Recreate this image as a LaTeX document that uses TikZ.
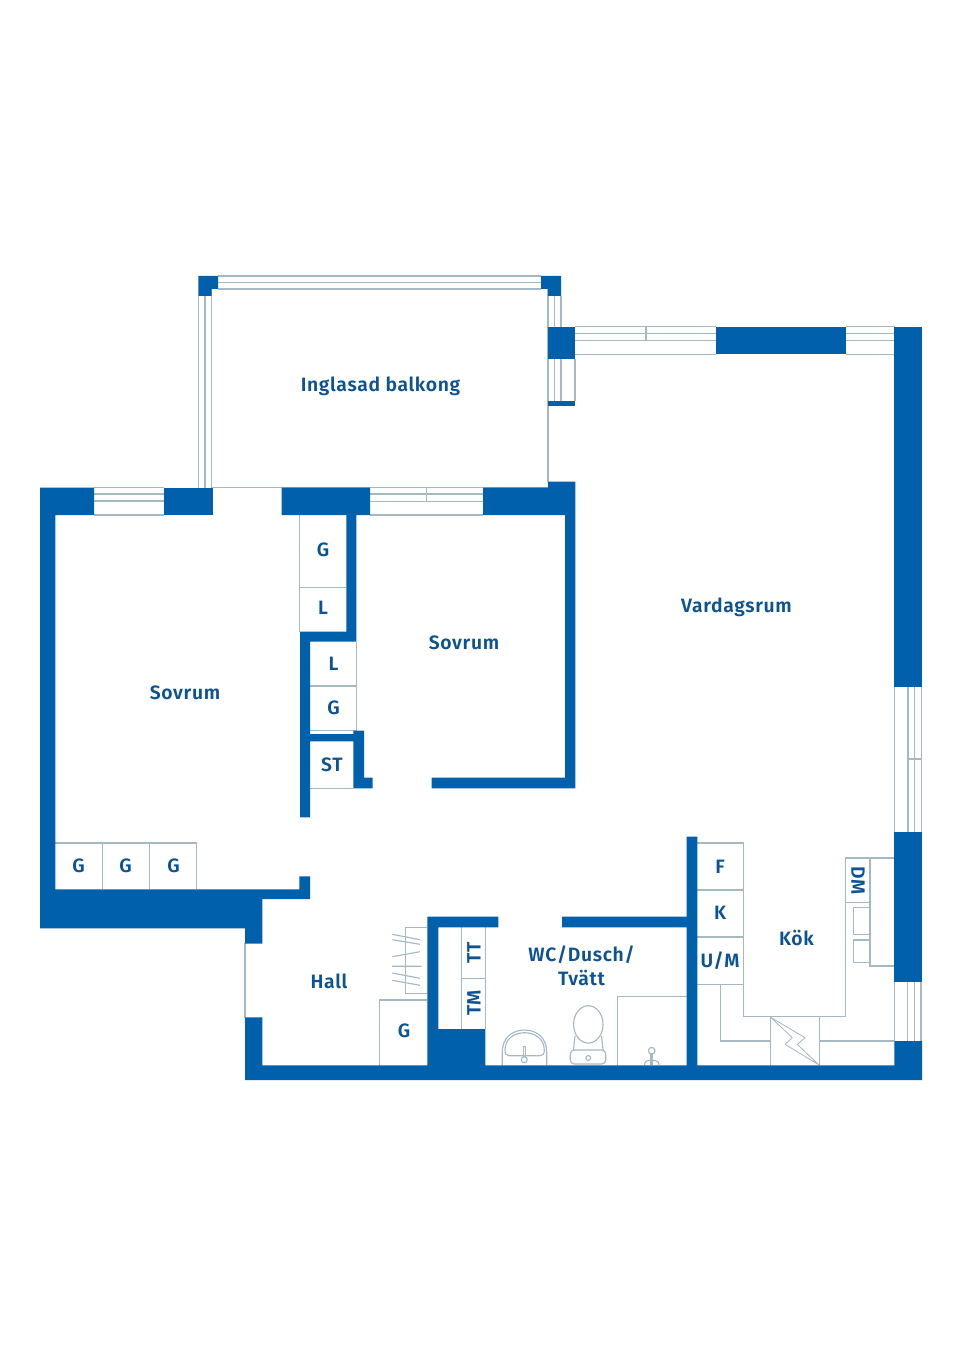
\documentclass[tikz,border=0pt]{standalone}
\usepackage{fontspec}
\setmainfont{Fira Sans}[BoldFont={Fira Sans SemiBold},BoldFeatures={LetterSpace=3.5}]
\definecolor{wallblue}{HTML}{0060AC}
\definecolor{textblue}{HTML}{0C5394}
\definecolor{thinline}{HTML}{A4B8C6}
\tikzset{
  wall/.style={fill=wallblue,draw=none},
  thin line/.style={draw=thinline,line width=0.85pt},
  lbl/.style={text=textblue,font=\fontsize{14.5}{17.5}\selectfont\bfseries,inner sep=0pt,text height=10pt,text depth=0pt},
  lbl2/.style={text=textblue,font=\fontsize{14.5}{17.8}\selectfont\bfseries,inner sep=0pt,align=center},
}
\begin{document}
\begin{tikzpicture}[x=0.75pt,y=-0.75pt]
\useasboundingbox (0,0) rectangle (960,1358);
% ---------- thin lines
\begin{scope}[thin line]
% balcony glazing
\draw (218,276)--(541,276) (218,282.5)--(541,282.5) (218,289)--(541,289);
\draw (198.3,296)--(198.3,488) (205,296)--(205,488) (211.5,289)--(211.5,488);
\draw (548,289)--(548,482) (554.5,296)--(554.5,327) (561,296)--(561,327);
\draw (554.5,359)--(554.5,401) (561,359)--(561,401) (575,359)--(575,401);
\draw (211,487.5)--(548,487.5);
% upper windows
\draw (575,326.7)--(716,326.7) (575,333.3)--(716,333.3) (575,340.3)--(716,340.3) (575,354.3)--(716,354.3);
\draw (646,326.7)--(646,340.3);
\draw (846,326.7)--(894.5,326.7) (846,333.3)--(894.5,333.3) (846,340.3)--(894.5,340.3) (846,354.3)--(894.5,354.3);
% bedroom windows
\draw (94,487.5)--(164,487.5) (94,494)--(164,494) (94,501)--(164,501) (94,515)--(164,515);
\draw (370,494)--(483,494) (370,501.3)--(483,501.3) (370,515)--(483,515);
\draw (426.3,487.5)--(426.3,501.3);
% right windows
\draw (894.7,686)--(894.7,832) (908,686)--(908,832) (914.7,686)--(914.7,832) (921.3,686)--(921.3,832);
\draw (908,759)--(921.3,759);
\draw (894.7,981)--(894.7,1041) (907.7,981)--(907.7,1041) (914.3,981)--(914.3,1041) (921,981)--(921,1041);
% wardrobes, bedroom
\draw (299.7,515)--(299.7,632) (300,587.3)--(346.3,587.3);
\draw (356.3,641.7)--(356.3,731) (310,686)--(356.3,686) (310,730.7)--(356.3,730.7);
\draw (310,788.3)--(353.3,788.3);
\draw (55,843)--(196.3,843)--(196.3,889.3) (102.3,843)--(102.3,889.3) (149.3,843)--(149.3,889.3);
% hall
\draw (245,943)--(245,1018);
\draw (427,927.7)--(405.7,927.7)--(405.7,993.7)--(427,993.7);
\draw (427,1000)--(379.7,1000)--(379.7,1065.5);
\draw (392.3,934.3)--(420,939.7) (392.3,939.7)--(420,944.3) (392.3,956.7)--(420,951.7)
      (392,966.3)--(421.7,966.3) (392.3,973)--(420,978.3) (392.3,980.3)--(420,985.3);
\draw (461.3,927)--(461.3,1029) (485.3,927)--(485.3,1029) (461.3,978.3)--(485.3,978.3);
% bathroom
\draw (617.7,1065.5)--(617.7,996.3)--(686.7,996.3);
% washbasin
\draw (502.3,1065.5)--(502.3,1052) .. controls (502.3,1038) and (512,1030) .. (524.5,1030) .. controls (537,1030) and (546.7,1038) .. (546.7,1052)--(546.7,1065.5);
\draw (505,1050) .. controls (505,1039) and (514,1032.7) .. (524.5,1032.7) .. controls (535,1032.7) and (544.3,1039) .. (544.3,1050) .. controls (544.3,1054) and (543,1055.7) .. (540,1055.7)--(509,1055.7) .. controls (506,1055.7) and (505,1054) .. (505,1050)--cycle;
\draw (523.3,1056.8)--(523.3,1046.7)--(525.3,1046.7)--(525.3,1056.8);
\filldraw[fill=white] (524.3,1059.7) circle (3);
% toilet
\draw (588.3,1024.4) ellipse (14.7 and 18.7);
\draw (575,1036)--(573.5,1050) (601.6,1036)--(603,1050);
\draw[rounded corners=3] (570.3,1050) rectangle (605.7,1064);
\draw (588.3,1058) circle (2.4);
% shower
\draw (651.7,1050.7) circle (3.3);
\draw (651,1054)--(651,1065) (652.6,1054)--(652.6,1065);
\draw (644.5,1065) .. controls (644.5,1061) and (647,1060.5) .. (651,1060.5) (659,1065) .. controls (659,1061) and (656.5,1060.5) .. (652.6,1060.5);
% kitchen
\draw (697.3,843)--(743.3,843)--(743.3,1016.7)--(845.7,1016.7)--(845.7,858)--(894,858);
\draw (697.3,890)--(743.3,890) (697.3,937)--(743.3,937) (697.3,984.3)--(743.3,984.3);
\draw (845.7,902.7)--(870,902.7) (870,858)--(870,966)--(894,966);
\draw (870,907.3)--(853.3,907.3)--(853.3,934.7)--(870,934.7);
\draw (870,940)--(853.3,940)--(853.3,962.3)--(870,962.3);
\draw (720.7,984.3)--(720.7,1041)--(770.7,1041);
\draw (770.7,1016.7)--(770.7,1065.5) (819.3,1016.7)--(819.3,1065.5);
\draw (819.3,1041)--(894,1041);
\draw[line width=0.6pt,line join=bevel] (770.7,1017.3)--(805,1037.7)--(797.3,1044.3)--(818.8,1064.8)--(785,1044.3)--(792.3,1037.7)--cycle;
\end{scope}
% ---------- walls
% balcony corners and stubs
\fill[wall] (198.3,276)--(218,276)--(218,289)--(211.5,289)--(211.5,296)--(198.3,296)--cycle;
\fill[wall] (541,276)--(561,276)--(561,296)--(548,296)--(548,289)--(541,289)--cycle;
\fill[wall] (548,326.7) rectangle (575.3,358.7);
\fill[wall] (548,401) rectangle (575.3,405.7);
% top wall
\fill[wall] (716,326.7) rectangle (846,354.3);
% right wall
\fill[wall] (894.3,326.7) rectangle (922,686.5);
\fill[wall] (894.3,831.7) rectangle (922,981.5);
\fill[wall] (894.3,1041)--(922,1041)--(922,1080)--(245,1080)--(245,1017.3)--(262.3,1017.3)--(262.3,1065.3)--(427.3,1065.3)--(427.3,916.7)--(498.3,916.7)--(498.3,927.3)--(438.3,927.3)--(438.3,1029)--(485.3,1029)--(485.3,1065.3)--(686.7,1065.3)--(686.7,927.3)--(562,927.3)--(562,916.7)--(686.7,916.7)--(686.7,836.7)--(697.3,836.7)--(697.3,1065.3)--(894.3,1065.3)--cycle;
% left wall and lower wall
\fill[wall] (40,487.5)--(94,487.5)--(94,515)--(55.3,515)--(55.3,889.3)--(299.3,889.3)--(299.3,876.3)--(310,876.3)--(310,899)--(262.3,899)--(262.3,943.7)--(245,943.7)--(245,928.3)--(40,928.3)--cycle;
\fill[wall] (164,487.5) rectangle (212.7,515);
% inner walls
\fill[wall] (281.7,487.5)--(370,487.5)--(370,515)--(356.3,515)--(356.3,641.7)--(310,641.7)--(310,734)--(353.3,734)--(353.3,730.7)--(364,730.7)--(364,777.7)--(372.7,777.7)--(372.7,788.3)--(353.3,788.3)--(353.3,741.3)--(310,741.3)--(310,817.3)--(300,817.3)--(300,631.7)--(346.3,631.7)--(346.3,515)--(281.7,515)--cycle;
\fill[wall] (483,487.5)--(548,487.5)--(548,481.7)--(575.3,481.7)--(575.3,788.3)--(431.7,788.3)--(431.7,777.7)--(565,777.7)--(565,515)--(483,515)--cycle;
% ---------- labels
\node[lbl] (balkong) at (380.5,385) {Inglasad balkong};
\node[lbl] (vardagsrum) at (736.5,606) {Vardagsrum};
\node[lbl] (sovrumA) at (464,642.5) {Sovrum};
\node[lbl] (sovrumB) at (185,692.5) {Sovrum};
\node[lbl] (hall) at (329,982) {Hall};
\node[lbl2] (wc) at (581.5,966) {WC/Dusch/\\Tvätt};
\node[lbl] (kok) at (796.5,939) {Kök};
\node[lbl] (f) at (720,866.5) {F};
\node[lbl] (k) at (720,912.5) {K};
\node[lbl] (um) at (720,961) {U/M};
\node[lbl,rotate=-90] (dm) at (858,881) {DM};
\node[lbl] (g1) at (323,550) {G};
\node[lbl] (l1) at (323,608) {L};
\node[lbl] (l2) at (333.5,663.5) {L};
\node[lbl] (g2) at (333.5,708) {G};
\node[lbl] (st) at (332,764.5) {ST};
\node[lbl] (g3) at (78.5,866) {G};
\node[lbl] (g4) at (125.5,866) {G};
\node[lbl] (g5) at (173.5,866) {G};
\node[lbl] (g6) at (404,1031) {G};
\node[lbl,rotate=90] (tt) at (474,953) {TT};
\node[lbl,rotate=90] (tm) at (474,1003) {TM};
\end{tikzpicture}
\end{document}
